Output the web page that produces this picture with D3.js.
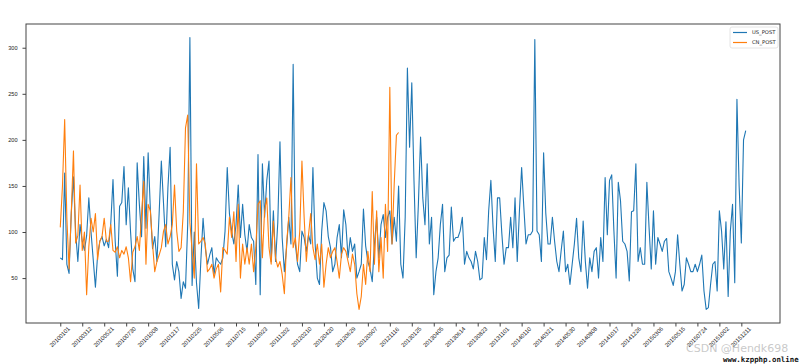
<!DOCTYPE html>
<html>
<head>
<meta charset="utf-8">
<title>PM weekly</title>
<style>
body { margin: 0; background: #fff; }
svg { display: block; font-family: "DejaVu Sans", sans-serif; }
.tick text { fill: #222; }
.domain, .tick line { stroke: #444; }
</style>
</head>
<body>
<svg width="800" height="364"></svg>
<script src="https://cdn.jsdelivr.net/npm/d3@7/dist/d3.min.js"></script>
<script>

// weekly means, US embassy station
var usPost = [
  72, 70, 164, 65, 55, 120, 160, 100, 68, 108, 90, 80, 96, 137, 100, 70, 40, 75, 90, 95,
  85, 92, 83, 110, 157, 90, 52, 128, 132, 171, 108, 148, 100, 60, 46, 175, 130, 95, 182, 104,
  186, 125, 82, 95, 68, 120, 177, 131, 84, 148, 192, 65, 48, 68, 57, 28, 46, 39, 108, 311,
  42, 100, 45, 17, 70, 115, 83, 65, 75, 83, 54, 72, 68, 65, 72, 101, 170, 120, 101, 87,
  108, 151, 94, 130, 97, 79, 108, 94, 90, 43, 184, 32, 174, 116, 156, 177, 68, 123, 68, 110,
  198, 94, 57, 83, 116, 87, 282, 87, 65, 57, 101, 94, 79, 97, 87, 170, 87, 50, 43, 101,
  132, 123, 95, 83, 57, 65, 94, 108, 72, 124, 108, 72, 94, 79, 87, 50, 57, 65, 125, 85,
  68, 60, 46, 87, 116, 72, 108, 119, 94, 116, 123, 87, 116, 90, 150, 65, 50, 116, 278, 192,
  262, 156, 72, 130, 203, 137, 108, 174, 87, 116, 32, 57, 72, 108, 130, 57, 72, 75, 127, 90,
  94, 94, 101, 116, 65, 79, 72, 68, 60, 79, 68, 48, 50, 94, 70, 123, 156, 105, 68, 137,
  137, 98, 65, 83, 83, 116, 83, 137, 68, 123, 170, 127, 87, 97, 97, 101, 309, 101, 97, 68,
  186, 120, 87, 87, 116, 90, 68, 57, 80, 101, 57, 65, 43, 65, 87, 115, 72, 57, 112, 68,
  39, 72, 57, 79, 83, 50, 94, 68, 159, 97, 156, 162, 101, 50, 154, 134, 90, 87, 79, 47,
  122, 123, 174, 68, 83, 65, 65, 154, 105, 60, 123, 65, 94, 87, 79, 90, 93, 57, 50, 42,
  57, 97, 65, 36, 43, 72, 65, 57, 57, 65, 57, 65, 75, 36, 16, 18, 43, 65, 68, 36,
  123, 101, 60, 111, 30, 101, 130, 45, 244, 150, 88, 200, 210
];

// weekly means, Chinese station (ends late 2012)
var cnPost = [
  105, 150, 222, 115, 60, 120, 188, 88, 96, 151, 80, 100, 32, 84, 115, 100, 120, 70, 90, 95,
  115, 90, 90, 108, 80, 78, 84, 72, 80, 76, 84, 72, 46, 78, 84, 95, 80, 120, 155, 65,
  130, 123, 87, 57, 68, 75, 83, 101, 108, 87, 95, 108, 151, 101, 79, 83, 122, 213, 227, 110,
  80, 50, 174, 87, 90, 94, 87, 57, 60, 65, 50, 60, 65, 35, 83, 80, 76, 116, 94, 122,
  68, 130, 50, 87, 65, 83, 65, 87, 57, 83, 130, 134, 72, 123, 137, 83, 65, 112, 72, 62,
  68, 54, 33, 87, 116, 159, 83, 94, 68, 101, 177, 116, 68, 97, 120, 83, 70, 87, 65, 87,
  40, 65, 83, 72, 79, 83, 68, 50, 76, 83, 79, 68, 57, 76, 65, 33, 16, 30, 65, 43,
  79, 57, 144, 65, 123, 57, 94, 50, 130, 79, 257, 87, 152, 205, 208
];

var tickLabels = [
  "20100101", "20100312", "20100521", "20100730", "20101008", "20101217",
  "20110225", "20110506", "20110715", "20110923", "20111202", "20120210",
  "20120420", "20120629", "20120907", "20121116", "20130125", "20130405",
  "20130614", "20130823", "20131101", "20140110", "20140321", "20140530",
  "20140808", "20141017", "20141226", "20150306", "20150515", "20150724",
  "20151002", "20151211"
];
var tickStep = 10;   // one label every 10 weeks

var seriesNames = ["US_POST", "CN_POST"];
var colors = ["#1f77b4", "#ff7f0e"];

var svg = d3.select("svg"),
    plotL = 26, plotR = 780, plotT = 24, plotB = 323;

// matplotlib style 5% margins
var n = usPost.length - 1;
var x = d3.scaleLinear()
    .domain([-n * 0.05, n * 1.05])
    .range([plotL, plotR]);

var all = usPost.concat(cnPost);
var lo = d3.min(all), hi = d3.max(all), pad = (hi - lo) * 0.05;
var y = d3.scaleLinear()
    .domain([lo - pad, hi + pad])
    .range([plotB, plotT]);

var line = d3.line()
    .x(function(d, i) { return x(i); })
    .y(function(d) { return y(d); });

[usPost, cnPost].forEach(function(s, k) {
  svg.append("path")
      .datum(s)
      .attr("fill", "none")
      .attr("stroke", colors[k])
      .attr("stroke-width", 1.1)
      .attr("stroke-linejoin", "round")
      .attr("d", line);
});

// frame
svg.append("rect")
    .attr("x", plotL).attr("y", plotT)
    .attr("width", plotR - plotL).attr("height", plotB - plotT)
    .attr("fill", "none")
    .attr("stroke", "#444")
    .attr("stroke-width", 1);

// y axis
var yAxis = svg.append("g")
    .attr("transform", "translate(" + plotL + ",0)")
    .call(d3.axisLeft(y).tickValues([50, 100, 150, 200, 250, 300]).tickSize(3.5).tickPadding(5));
yAxis.select(".domain").remove();
yAxis.selectAll("text").attr("font-size", 5.6);

// x axis
var xAxis = svg.append("g")
    .attr("transform", "translate(0," + plotB + ")")
    .call(d3.axisBottom(x)
      .tickValues(d3.range(0, tickLabels.length * tickStep, tickStep))
      .tickFormat(function(d) { return tickLabels[d / tickStep]; })
      .tickSize(3.5));
xAxis.select(".domain").remove();
xAxis.selectAll("text")
    .attr("font-size", 5.8)
    .attr("text-anchor", "middle")
    .attr("y", 0).attr("dy", "0.35em")
    .attr("transform", "translate(-1,14) rotate(-45)");

// legend
var lg = svg.append("g").attr("transform", "translate(730,27)");
lg.append("rect")
    .attr("width", 48).attr("height", 21).attr("rx", 2)
    .attr("fill", "#fff").attr("fill-opacity", 0.8)
    .attr("stroke", "#ddd").attr("stroke-width", 0.8);
seriesNames.forEach(function(name, k) {
  var row = lg.append("g").attr("transform", "translate(0," + (5.5 + k * 10) + ")");
  row.append("line")
      .attr("x1", 3).attr("x2", 17)
      .attr("stroke", colors[k]).attr("stroke-width", 1.2);
  row.append("text")
      .attr("x", 22).attr("dy", "0.35em")
      .attr("font-size", 5.2).attr("fill", "#222")
      .text(name);
});

// watermark on the source image
svg.append("text")
    .attr("x", 686).attr("y", 352)
    .attr("font-size", 11).attr("fill", "#bbb").attr("fill-opacity", 0.8)
    .text("CSDN @Hendk698");
svg.append("text")
    .attr("x", 723).attr("y", 362)
    .attr("font-size", 7.4).attr("font-family", "DejaVu Sans Mono").attr("font-weight", "bold")
    .attr("fill", "#111")
    .text("www.kzpphp.online");

</script>
</body>
</html>
